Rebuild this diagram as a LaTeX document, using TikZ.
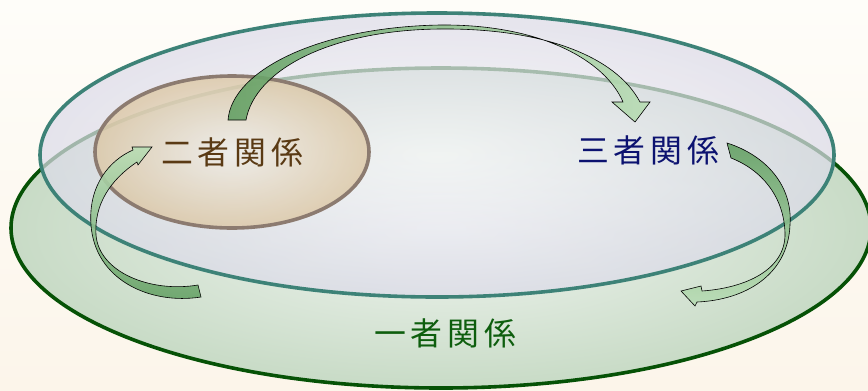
\documentclass[tikz,border=0pt]{standalone}
\usepackage{fontspec}
\newfontfamily\cjk{Noto Sans CJK JP}[LetterSpace=15]
\definecolor{bgtop}{HTML}{FEFDF9}
\definecolor{bgbot}{HTML}{FCF5EA}
\definecolor{oneLine}{HTML}{065206}
\definecolor{oneIn}{HTML}{F1F5F1}
\definecolor{oneOut}{HTML}{C8DBC6}
\definecolor{threeLine}{HTML}{3D8277}
\definecolor{threeIn}{HTML}{F8F8FB}
\definecolor{threeOut}{HTML}{DCDBE9}
\definecolor{twoLine}{HTML}{8C7B70}
\definecolor{twoIn}{HTML}{F0EEEA}
\definecolor{twoOut}{HTML}{DCC7A4}
\definecolor{arrDark}{HTML}{64A064}
\definecolor{arrLight}{HTML}{B9DDB5}
\definecolor{oneTxt}{HTML}{0E5E0E}
\definecolor{twoTxt}{HTML}{5A3A14}
\definecolor{threeTxt}{HTML}{0C1270}
\begin{document}
\begin{tikzpicture}[x=1bp, y=-1bp,
    ring/.style={line width=3.6bp},
    blockarrow/.style={draw=black, line width=0.6bp, fill opacity=0.9},
    rel/.style={font=\cjk\fontsize{32}{38}\selectfont, inner sep=0pt}]
    % background
    \shade[top color=bgtop, bottom color=bgbot] (0,0) rectangle (868,390);
    \useasboundingbox (0,0) rectangle (868,390);

    % one-person ring
    \shadedraw[ring, draw=oneLine, inner color=oneIn, outer color=oneOut]
        (441,228) ellipse [x radius=430, y radius=160];
    % three-person ring
    \shadedraw[ring, draw=threeLine, inner color=threeIn, outer color=threeOut,
        fill opacity=0.72] (437,155) ellipse [x radius=397, y radius=142];
    % two-person ring
    \shadedraw[ring, draw=twoLine, inner color=twoIn, outer color=twoOut,
        fill opacity=0.8] (232,152) ellipse [x radius=137, y radius=76];

    % arrow: two -> three (over the top)
    \shadedraw[blockarrow, left color=arrDark, right color=arrLight]
        (228,120) .. controls (232,70) and (320,27) .. (440,25)
        .. controls (540,24) and (605,60) .. (623,102)
        -- (612,102) -- (635,122) -- (650,102) -- (640,102)
        .. controls (615,55) and (540,28) .. (440,29)
        .. controls (330,30) and (255,70) .. (246,120) -- cycle;
    % arrow: three -> one (right side)
    \shadedraw[blockarrow, top color=arrDark, bottom color=arrLight]
        (727,143) .. controls (765,155) and (793,185) .. (790,225)
        .. controls (788,275) and (745,300) .. (697,302)
        -- (695,306) -- (681,291) -- (701,286) -- (702,291)
        .. controls (745,288) and (786,270) .. (785,233)
        .. controls (784,197) and (762,170) .. (731,158) -- cycle;
    % arrow: one -> two (left side)
    \shadedraw[blockarrow, bottom color=arrDark, top color=arrLight]
        (201,297) .. controls (150,305) and (95,280) .. (91,225)
        .. controls (88,185) and (110,160) .. (133,150)
        -- (132,147) -- (152,147) -- (138,165) -- (137,162)
        .. controls (110,180) and (94,205) .. (96,235)
        .. controls (99,272) and (150,293) .. (198,285) -- cycle;

    % labels
    \node[rel, text=twoTxt] (two) at (232,152) {二者関係};
    \node[rel, text=threeTxt] (three) at (648,150) {三者関係};
    \node[rel, text=oneTxt] (one) at (445,333) {一者関係};
\end{tikzpicture}
\end{document}
